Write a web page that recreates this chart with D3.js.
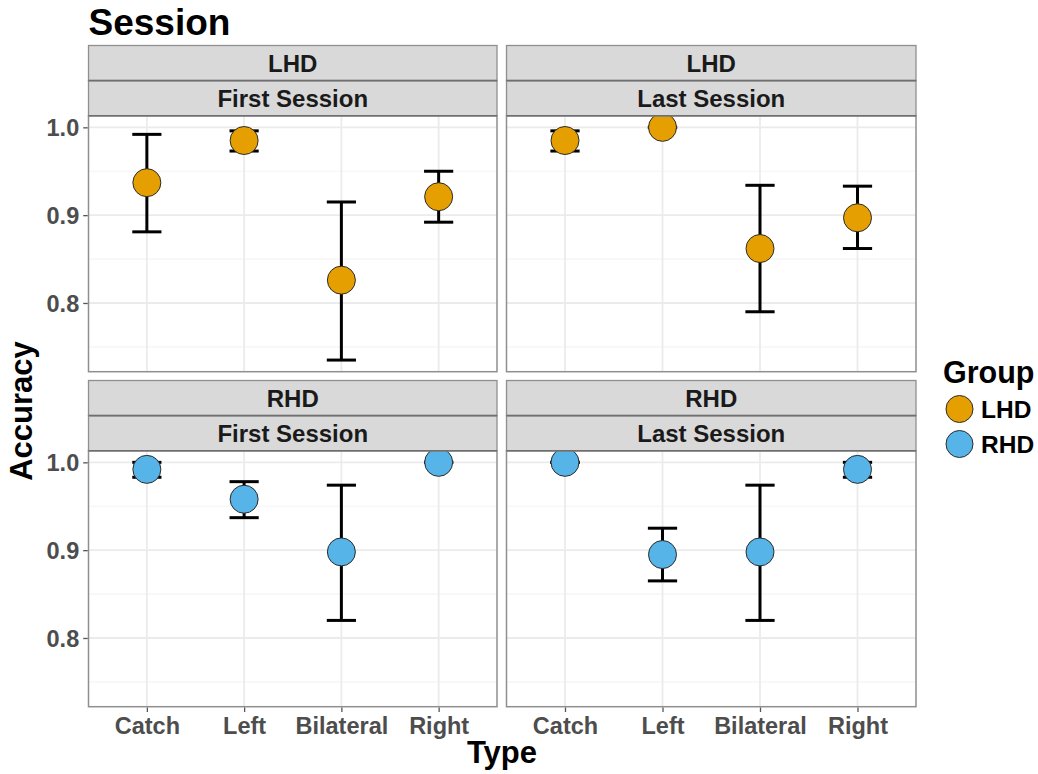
<!DOCTYPE html>
<html>
<head>
<meta charset="utf-8">
<script src="https://cdn.jsdelivr.net/npm/d3@7"></script>
<style>
  html, body { margin: 0; padding: 0; background: #fff; }
  svg { display: block; font-family: "Liberation Sans", Arial, Helvetica, sans-serif; }
</style>
</head>
<body>
<svg id="chart" width="1038" height="774"></svg>
<script>
// Stimulus types on the x axis
const types = ["Catch", "Left", "Bilateral", "Right"];
const groups = ["LHD", "RHD"];
const sessions = ["First Session", "Last Session"];
const groupColors = ["#E69F00", "#56B4E9"];
const yTicks = [0.8, 0.9, 1.0];
const yMinorTicks = [0.75, 0.85, 0.95];

// Mean accuracy and error-bar limits per type
const lhdFirstMean = [0.937, 0.985, 0.826, 0.921];
const lhdFirstLow  = [0.881, 0.973, 0.735, 0.892];
const lhdFirstHigh = [0.992, 0.996, 0.915, 0.950];

const lhdLastMean = [0.985, 1.000, 0.862, 0.897];
const lhdLastLow  = [0.973, 1.000, 0.790, 0.862];
const lhdLastHigh = [0.996, 1.000, 0.934, 0.933];

const rhdFirstMean = [0.992, 0.958, 0.898, 1.000];
const rhdFirstLow  = [0.983, 0.937, 0.820, 1.000];
const rhdFirstHigh = [1.000, 0.978, 0.974, 1.000];

const rhdLastMean = [1.000, 0.895, 0.898, 0.992];
const rhdLastLow  = [1.000, 0.865, 0.820, 0.983];
const rhdLastHigh = [1.000, 0.925, 0.974, 1.000];

const panels = [
  { group: 0, session: 0, mean: lhdFirstMean, low: lhdFirstLow, high: lhdFirstHigh },
  { group: 0, session: 1, mean: lhdLastMean,  low: lhdLastLow,  high: lhdLastHigh },
  { group: 1, session: 0, mean: rhdFirstMean, low: rhdFirstLow, high: rhdFirstHigh },
  { group: 1, session: 1, mean: rhdLastMean,  low: rhdLastLow,  high: rhdLastHigh }
];

const svg = d3.select("#chart");

// Layout
const colX = [[88.5, 497], [506.5, 916]];
const rowTop = [45.5, 380.5];
const stripH = 35.1;
const panelH = 256;

// Shared y domain with 5% expansion like the facetted plot
const allVals = panels.flatMap(p => p.low.concat(p.high));
const yLo = d3.min(allVals), yHi = d3.max(allVals);
const pad = (yHi - yLo) * 0.05;
const yDomain = [yLo - pad, yHi + pad];

const gridMajor = "#ebebeb";
const gridMinor = "#f4f4f4";
const borderCol = "#8f8f8f";
const tickTextCol = "#4d4d4d";

panels.forEach((p, i) => {
  const row = p.group;
  const [x0, x1] = colX[p.session];
  const sTop = rowTop[row];
  const pTop = sTop + 2 * stripH;
  const pBot = pTop + panelH;

  const x = d3.scalePoint().domain(types).range([x0, x1]).padding(0.6);
  const y = d3.scaleLinear().domain(yDomain).range([pBot, pTop]);

  const g = svg.append("g");

  // panel background
  g.append("rect").attr("x", x0).attr("y", pTop).attr("width", x1 - x0).attr("height", panelH)
    .attr("fill", "#fff");

  // minor grid
  g.selectAll(".ymin").data(yMinorTicks).enter().append("line")
    .attr("x1", x0).attr("x2", x1)
    .attr("y1", d => y(d)).attr("y2", d => y(d))
    .attr("stroke", gridMinor).attr("stroke-width", 1.2);
  // major grid
  g.selectAll(".ymaj").data(yTicks).enter().append("line")
    .attr("x1", x0).attr("x2", x1)
    .attr("y1", d => y(d)).attr("y2", d => y(d))
    .attr("stroke", gridMajor).attr("stroke-width", 1.8);
  g.selectAll(".xmaj").data(types).enter().append("line")
    .attr("x1", d => x(d)).attr("x2", d => x(d))
    .attr("y1", pTop).attr("y2", pBot)
    .attr("stroke", gridMajor).attr("stroke-width", 1.8);

  // error bars
  const capW = x.step() * 0.3;
  const eb = g.selectAll(".eb").data(types).enter().append("g");
  eb.append("line")
    .attr("x1", d => x(d)).attr("x2", d => x(d))
    .attr("y1", (d, k) => y(p.low[k])).attr("y2", (d, k) => y(p.high[k]))
    .attr("stroke", "#000").attr("stroke-width", 3);
  eb.append("line")
    .attr("x1", d => x(d) - capW / 2).attr("x2", d => x(d) + capW / 2)
    .attr("y1", (d, k) => y(p.low[k])).attr("y2", (d, k) => y(p.low[k]))
    .attr("stroke", "#000").attr("stroke-width", 3);
  eb.append("line")
    .attr("x1", d => x(d) - capW / 2).attr("x2", d => x(d) + capW / 2)
    .attr("y1", (d, k) => y(p.high[k])).attr("y2", (d, k) => y(p.high[k]))
    .attr("stroke", "#000").attr("stroke-width", 3);

  // points
  g.selectAll(".pt").data(types).enter().append("circle")
    .attr("cx", d => x(d))
    .attr("cy", (d, k) => y(p.mean[k]))
    .attr("r", 14)
    .attr("fill", groupColors[p.group])
    .attr("stroke", "#2b2b2b").attr("stroke-width", 1);

  // panel border
  g.append("rect").attr("x", x0).attr("y", pTop).attr("width", x1 - x0).attr("height", panelH)
    .attr("fill", "none").attr("stroke", borderCol).attr("stroke-width", 1.5);

  // strips
  const stripLabels = [groups[p.group], sessions[p.session]];
  stripLabels.forEach((lab, s) => {
    const sy = sTop + s * stripH;
    g.append("rect").attr("x", x0).attr("y", sy).attr("width", x1 - x0).attr("height", stripH)
      .attr("fill", "#d9d9d9").attr("stroke", borderCol).attr("stroke-width", 1.3);
    g.append("text")
      .attr("x", (x0 + x1) / 2).attr("y", sy + stripH / 2 + 8.6)
      .attr("text-anchor", "middle")
      .attr("font-size", 24).attr("font-weight", "bold").attr("fill", "#1a1a1a")
      .text(lab);
  });
  // darker rules between strips and under the strips
  g.append("line").attr("x1", x0).attr("x2", x1).attr("y1", sTop + stripH).attr("y2", sTop + stripH)
    .attr("stroke", "#6f6f6f").attr("stroke-width", 1.6);
  g.append("line").attr("x1", x0).attr("x2", x1).attr("y1", pTop).attr("y2", pTop)
    .attr("stroke", "#6f6f6f").attr("stroke-width", 1.6);

  // y axis on left column
  if (p.session === 0) {
    const ya = d3.axisLeft(y).tickValues(yTicks).tickFormat(d3.format(".1f")).tickSize(4.5).tickPadding(4);
    const ag = svg.append("g").attr("transform", `translate(${x0 - 0.8},0)`).call(ya);
    ag.select(".domain").remove();
    ag.selectAll(".tick line").attr("stroke", "#555").attr("stroke-width", 1.3);
    ag.selectAll(".tick text").attr("font-size", 23.5).attr("font-weight", "bold")
      .attr("fill", tickTextCol).attr("font-family", "Liberation Sans, Arial, sans-serif")
      .attr("dy", "0.36em");
  }
  // x axis on bottom row
  if (row === 1) {
    const xa = d3.axisBottom(x).tickSize(4.5).tickPadding(5);
    const ag = svg.append("g").attr("transform", `translate(0,${pBot + 0.8})`).call(xa);
    ag.select(".domain").remove();
    ag.selectAll(".tick line").attr("stroke", "#555").attr("stroke-width", 1.3);
    ag.selectAll(".tick text").attr("font-size", 23.5).attr("font-weight", "bold")
      .attr("fill", tickTextCol).attr("font-family", "Liberation Sans, Arial, sans-serif")
      .attr("dy", "0.71em");
  }
});

// Title
svg.append("text").attr("x", 88.5).attr("y", 35)
  .attr("font-size", 37).attr("font-weight", "bold").attr("fill", "#000")
  .text("Session");

// Axis titles
svg.append("text").attr("x", 502).attr("y", 763)
  .attr("text-anchor", "middle")
  .attr("font-size", 31).attr("font-weight", "bold").attr("fill", "#000")
  .text("Type");
svg.append("text")
  .attr("transform", "translate(32,411) rotate(-90)")
  .attr("text-anchor", "middle")
  .attr("font-size", 31).attr("font-weight", "bold").attr("fill", "#000")
  .text("Accuracy");

// Legend
const lg = svg.append("g");
lg.append("text").attr("x", 943).attr("y", 383)
  .attr("font-size", 30.5).attr("font-weight", "bold").attr("fill", "#000")
  .text("Group");
groups.forEach((gname, k) => {
  const cy = 409 + k * 35;
  lg.append("circle").attr("cx", 959.5).attr("cy", cy).attr("r", 13.5)
    .attr("fill", groupColors[k]).attr("stroke", "#2b2b2b").attr("stroke-width", 1);
  lg.append("text").attr("x", 981).attr("y", cy + 8.7)
    .attr("font-size", 24.5).attr("font-weight", "bold").attr("fill", "#000")
    .text(gname);
});
</script>
</body>
</html>
